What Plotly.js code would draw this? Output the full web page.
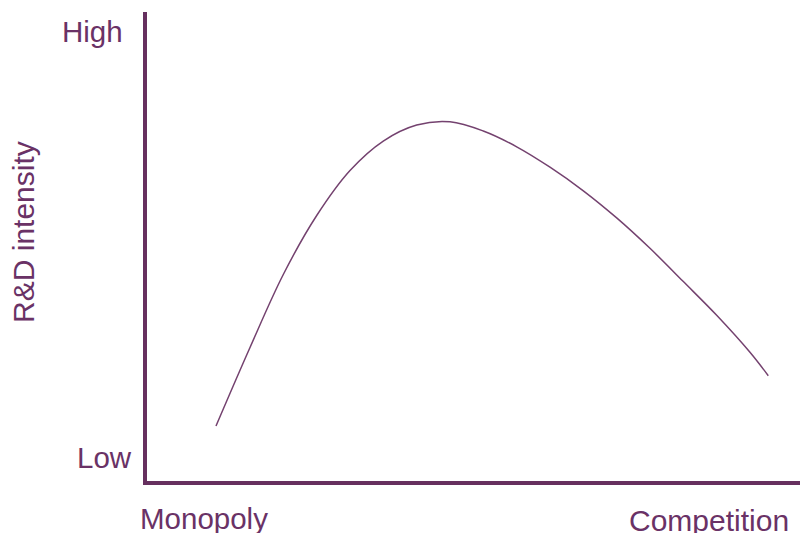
<!DOCTYPE html>
<html>
<head>
<meta charset="utf-8">
<script src="https://cdn.plot.ly/plotly-3.0.1.min.js"></script>
<style>
  html, body { margin: 0; padding: 0; background: #ffffff; }
  #chart { width: 800px; height: 533px; }
</style>
</head>
<body>
<div id="chart"></div>
<script>
// Curve (x: 0 = monopoly … 100 = competition, y: 0 = low … 100 = high)
const competitionLevel = [10.70, 15.90, 20.99, 26.10, 31.19, 36.28, 41.39, 46.48, 51.57, 56.68, 61.77, 66.87, 71.97, 77.06, 82.16, 87.26, 92.35, 95.15];
const rdIntensity     = [11.91, 28.62, 44.15, 56.70, 66.28, 72.55, 75.96, 76.64, 74.68, 71.32, 66.98, 61.96, 56.19, 49.72, 42.64, 35.47, 27.60, 22.62];

const yTickLabels = ["High", "Low"];
const xTickLabels = ["Monopoly", "Competition"];
const yAxisTitle = "R&D intensity";

const axisColor = "#66305f";
const textColor = "#6a3266";
const curveColor = "#74426f";
const font = "Liberation Sans, Arial, sans-serif";

const trace = {
  x: competitionLevel,
  y: rdIntensity,
  type: "scatter",
  mode: "lines",
  line: { color: curveColor, width: 1.5, shape: "spline", smoothing: 1 },
  hoverinfo: "skip"
};

const layout = {
  width: 800,
  height: 533,
  margin: { l: 147, r: 0, t: 12, b: 52 },
  paper_bgcolor: "#ffffff",
  plot_bgcolor: "#ffffff",
  showlegend: false,
  xaxis: {
    range: [0.15, 100],
    showline: true, linecolor: axisColor, linewidth: 4,
    showgrid: false, zeroline: false, showticklabels: false, ticks: ""
  },
  yaxis: {
    range: [0.21, 100],
    showline: true, linecolor: axisColor, linewidth: 4,
    showgrid: false, zeroline: false, showticklabels: false, ticks: ""
  },
  annotations: [
    { text: yTickLabels[0], xref: "paper", yref: "paper", x: -0.0842, y: 0.958, xanchor: "center", yanchor: "middle", showarrow: false, font: { family: font, size: 29.5, color: textColor } },
    { text: yTickLabels[1], xref: "paper", yref: "paper", x: -0.0658, y: 0.050, xanchor: "center", yanchor: "middle", showarrow: false, font: { family: font, size: 29.5, color: textColor } },
    { text: xTickLabels[0], xref: "paper", yref: "paper", x: 0.0873, y: -0.080, xanchor: "center", yanchor: "middle", showarrow: false, font: { family: font, size: 29.5, color: textColor } },
    { text: xTickLabels[1], xref: "paper", yref: "paper", x: 0.8607, y: -0.084, xanchor: "center", yanchor: "middle", showarrow: false, font: { family: font, size: 30, color: textColor } },
    { text: yAxisTitle, xref: "paper", yref: "paper", x: -0.1884, y: 0.531, xanchor: "center", yanchor: "middle", textangle: -90, showarrow: false, font: { family: font, size: 30, color: textColor } }
  ]
};

Plotly.newPlot("chart", [trace], layout, { staticPlot: true, displayModeBar: false });
</script>
</body>
</html>
